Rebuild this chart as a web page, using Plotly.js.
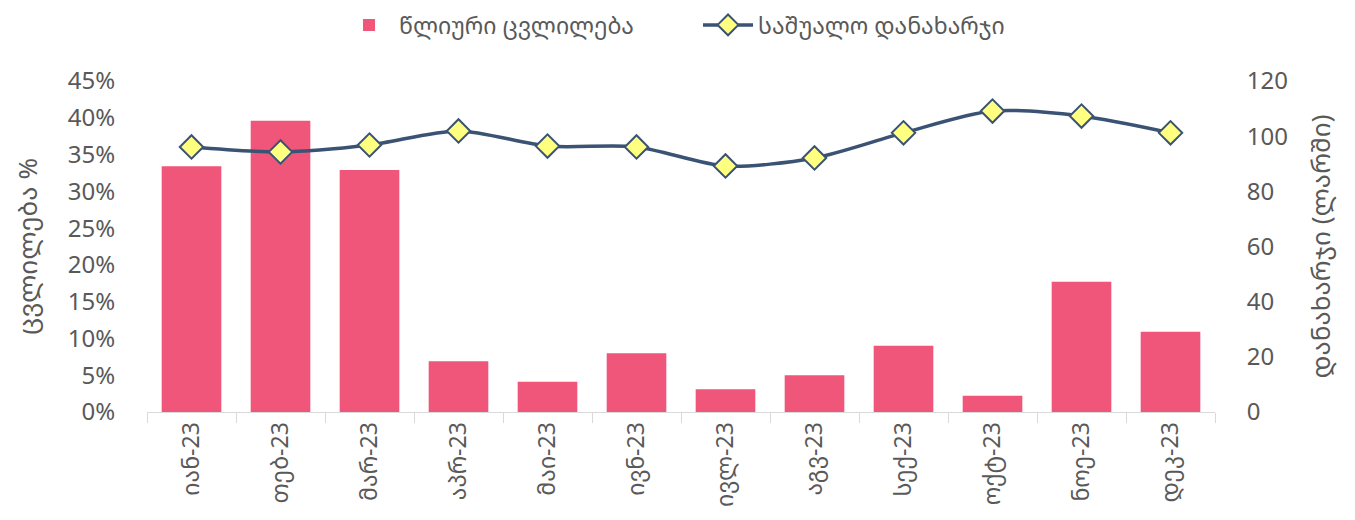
<!DOCTYPE html>
<html>
<head>
<meta charset="utf-8">
<script src="https://cdn.plot.ly/plotly-3.0.1.min.js"></script>
<style>html,body{margin:0;padding:0;background:#fff;}#chart{width:1355px;height:520px;}</style>
</head>
<body>
<div id="chart"></div>
<script>
const categories = ["იან-23","თებ-23","მარ-23","აპრ-23","მაი-23","ივნ-23","ივლ-23","აგვ-23","სექ-23","ოქტ-23","ნოე-23","დეკ-23"];
const annualChange = [0.334, 0.396, 0.329, 0.069, 0.041, 0.080, 0.031, 0.050, 0.090, 0.022, 0.177, 0.109];
const avgSpending = [96.1, 94.3, 96.8, 101.9, 96.4, 96.1, 89.2, 92.1, 101.2, 109.1, 107.3, 101.2];
const leftTicks = [0,0.05,0.10,0.15,0.20,0.25,0.30,0.35,0.40,0.45];
const rightTicks = [0,20,40,60,80,100,120];

const FONT = "Noto Sans Georgian, Noto Sans, DejaVu Sans, sans-serif";
const GRAY = "#595959";

const traces = [
  {
    type: "bar", name: "წლიური ცვლილება", x: categories, y: annualChange,
    marker: {color: "#f0557a"}, yaxis: "y"
  },
  {
    type: "scatter", mode: "lines+markers", name: "საშუალო დანახარჯი", x: categories, y: avgSpending,
    yaxis: "y2", line: {color: "#3a5273", width: 3.5, shape: "spline", smoothing: 0.8},
    marker: {symbol: "diamond", size: 18, color: "#ffff80", line: {color: "#3a5273", width: 2}}
  }
];

const layout = {
  width: 1355, height: 520,
  margin: {l: 147, r: 140, t: 81, b: 108, autoexpand: false},
  paper_bgcolor: "#fff", plot_bgcolor: "#fff",
  font: {family: FONT, color: GRAY, size: 24},
  bargap: 0.33,
  showlegend: true,
  legend: {orientation: "h", x: 0.2502, xanchor: "left", xref: "container",
           y: 0.952, yanchor: "middle", yref: "container",
           font: {size: 23, color: GRAY}, itemwidth: 50, entrywidth: 294},
  xaxis: {
    type: "category", range: [-0.5, 11.5], tickangle: -90, ticks: "outside", tickson: "boundaries", ticklen: 10,
    tickcolor: "#d9d9d9", showline: true, linecolor: "#d9d9d9", linewidth: 1, automargin: false,
    showgrid: false, tickfont: {size: 23, color: GRAY}, zeroline: false
  },
  yaxis: {
    range: [0, 0.45], tickvals: leftTicks, tickformat: ".0%", showgrid: false, zeroline: false,
    showline: false, tickfont: {size: 24, color: GRAY}, ticks: "outside", ticklen: 26,
    tickcolor: "rgba(0,0,0,0)", automargin: false,
    title: {text: "ცვლილება %", font: {size: 26, color: GRAY}, standoff: 22}
  },
  yaxis2: {
    range: [0, 120], tickvals: rightTicks, overlaying: "y", side: "right", showgrid: false,
    zeroline: false, showline: false, tickfont: {size: 24, color: GRAY}, ticks: "outside", ticklen: 26,
    tickcolor: "rgba(0,0,0,0)", automargin: false,
    title: {text: "დანახარჯი (ლარში)", font: {size: 26, color: GRAY}, standoff: 24}
  }
};

Plotly.newPlot("chart", traces, layout, {displayModeBar: false, staticPlot: true});
</script>
</body>
</html>
